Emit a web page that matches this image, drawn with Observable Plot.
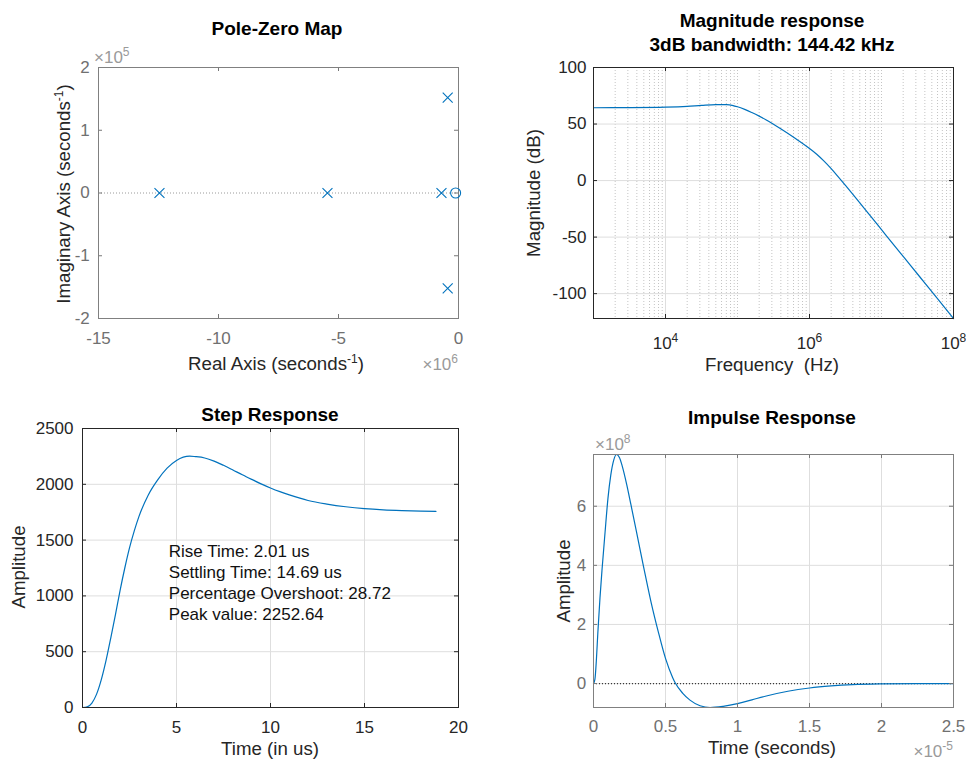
<!DOCTYPE html>
<html>
<head>
<meta charset="utf-8">
<script src="https://cdn.jsdelivr.net/npm/d3@7"></script>
<script src="https://cdn.jsdelivr.net/npm/@observablehq/plot@0.6"></script>
<style>
  body { margin: 0; background: #fff; }
  #fig { position: relative; width: 966px; height: 760px; background: #fff; overflow: hidden;
         font-family: "Liberation Sans", Arial, Helvetica, sans-serif; }
  .panel { position: absolute; }
  .lbl { position: absolute; white-space: pre; line-height: 1; transform: translate(-50%, -50%);
         color: #262626; font-size: 18.7px; }
  .title { font-weight: bold; color: #000; font-size: 19px; }
  .rot { transform: translate(-50%, -50%) rotate(-90deg); }
  .mult { position: absolute; white-space: pre; line-height: 1; color: #9a9a9a; font-size: 17px; }
  sup { font-size: 12px; vertical-align: 7px; line-height: 0; }
</style>
</head>
<body>
<div id="fig">
  <div class="panel" id="p1" style="left:0;top:0"></div>
  <div class="panel" id="p2" style="left:480px;top:0"></div>
  <div class="panel" id="p3" style="left:0;top:380px"></div>
  <div class="panel" id="p4" style="left:480px;top:380px"></div>

  <div class="lbl title" style="left:277px;top:28px">Pole-Zero Map</div>
  <div class="lbl title" style="left:772px;top:20px">Magnitude response</div>
  <div class="lbl title" style="left:772px;top:43.5px">3dB bandwidth: 144.42 kHz</div>
  <div class="lbl title" style="left:270px;top:414px">Step Response</div>
  <div class="lbl title" style="left:772px;top:417px">Impulse Response</div>

  <div class="lbl" style="left:276px;top:364px">Real Axis (seconds<sup>-1</sup>)</div>
  <div class="lbl rot" style="left:64px;top:194px">Imaginary Axis (seconds<sup>-1</sup>)</div>
  <div class="lbl" style="left:772px;top:364.5px">Frequency  (Hz)</div>
  <div class="lbl rot" style="left:534px;top:193px">Magnitude (dB)</div>
  <div class="lbl" style="left:270px;top:748.5px">Time (in us)</div>
  <div class="lbl rot" style="left:19px;top:567px">Amplitude</div>
  <div class="lbl" style="left:772px;top:747.5px">Time (seconds)</div>
  <div class="lbl rot" style="left:564px;top:581px">Amplitude</div>

  <div class="mult" style="left:94px;top:48.6px">×10<sup>5</sup></div>
  <div class="mult" style="right:508px;top:356px">×10<sup>6</sup></div>
  <div class="mult" style="left:595px;top:435.6px">×10<sup>8</sup></div>
  <div class="mult" style="right:13px;top:743px">×10<sup>-5</sup></div>
</div>
<script>
// ---------------- DATA ----------------
// Pole-zero map (seconds^-1)
const poleRe = [-12.46e6, -5.46e6, -0.71e6, -0.45e6, -0.45e6];
const poleIm = [0, 0, 0, 1.52e5, -1.52e5];
const zeroRe = [-0.12e6];
const zeroIm = [0];
const pzXTicks = [-15e6, -10e6, -5e6, 0];
const pzYTicks = [-2e5, -1e5, 0, 1e5, 2e5];

// Magnitude response
const magFreqHz = [1e3, 3.16e3, 1e4, 2e4, 3.16e4, 5e4, 7.08e4, 8.9e4, 1e5, 1.26e5, 1.58e5, 2e5, 2.51e5,
                   3.98e5, 6.31e5, 1e6, 1.26e6, 1.58e6, 2e6, 2.51e6, 3.16e6, 3.98e6, 6.31e6, 1e7,
                   1.58e7, 2.51e7, 3.98e7, 6.31e7, 1e8];
const magDb     = [64.4, 64.5, 64.9, 65.6, 66.5, 67.2, 67.1, 66.1, 65.3, 63.0, 60.2, 57.0, 53.6,
                   45.8, 37.4, 28.4, 23.3, 17.4, 10.6, 3.3, -4.3, -12.0, -27.6, -43.4,
                   -59.1, -74.8, -90.5, -106.2, -122];
const magXTicks = [1e4, 1e6, 1e8];
const magXLabels = ["10^4", "10^6", "10^8"];
const magYTicks = [-100, -50, 0, 50, 100];
const magMajorGrid = [1e4, 1e6];
const magMinorGrid = [2e3, 3e3, 4e3, 5e3, 6e3, 7e3, 8e3, 9e3,
                      2e4, 3e4, 4e4, 5e4, 6e4, 7e4, 8e4, 9e4,
                      1e5, 2e5, 3e5, 4e5, 5e5, 6e5, 7e5, 8e5, 9e5,
                      2e6, 3e6, 4e6, 5e6, 6e6, 7e6, 8e6, 9e6,
                      1e7, 2e7, 3e7, 4e7, 5e7, 6e7, 7e7, 8e7, 9e7];

// Step response (time in us)
const stepT   = [0, 0.25, 0.5, 0.75, 1.0, 1.25, 1.5, 1.75, 2.0, 2.25, 2.5, 2.75, 3.0, 3.5, 4.0, 4.5,
                 5.0, 5.7, 6.0, 6.5, 7.0, 7.5, 8.0, 8.5, 9.0, 9.5, 10, 10.5, 11, 12, 13, 14, 15, 16,
                 17, 18, 18.8];
const stepAmp = [0, 6, 40, 120, 250, 420, 620, 830, 1050, 1250, 1430, 1580, 1710, 1905, 2040, 2145,
                 2214, 2252, 2248, 2236, 2208, 2170, 2128, 2085, 2044, 2004, 1967, 1934, 1905, 1855,
                 1823, 1799, 1782, 1771, 1764, 1759, 1757];
const stepXTicks = [0, 5, 10, 15, 20];
const stepYTicks = [0, 500, 1000, 1500, 2000, 2500];
const stepInfo = ["Rise Time: 2.01 us", "Settling Time: 14.69 us",
                  "Percentage Overshoot: 28.72", "Peak value: 2252.64"];

// Impulse response (seconds, amplitude)
const impT = [0, 0.01e-5, 0.02e-5, 0.03e-5, 0.045e-5, 0.06e-5, 0.08e-5, 0.10e-5, 0.12e-5, 0.14e-5,
              0.16e-5, 0.18e-5, 0.20e-5, 0.23e-5, 0.26e-5, 0.30e-5, 0.35e-5, 0.40e-5, 0.45e-5,
              0.50e-5, 0.55e-5, 0.57e-5, 0.62e-5, 0.67e-5, 0.74e-5, 0.81e-5, 0.90e-5, 1.0e-5,
              1.1e-5, 1.2e-5, 1.35e-5, 1.5e-5, 1.65e-5, 1.8e-5, 2.0e-5, 2.25e-5, 2.5e-5];
const impAmp = [0, 0.15e8, 0.8e8, 1.7e8, 2.9e8, 3.9e8, 5.1e8, 6.25e8, 7.05e8, 7.55e8,
                7.75e8, 7.65e8, 7.35e8, 6.75e8, 6.05e8, 5.1e8, 3.9e8, 2.75e8, 1.75e8,
                0.85e8, 0.2e8, 0, -0.33e8, -0.56e8, -0.75e8, -0.81e8, -0.77e8, -0.68e8,
                -0.55e8, -0.42e8, -0.26e8, -0.15e8, -0.08e8, -0.035e8, -0.01e8, 0, 0];
const impXTicks = [0, 0.5e-5, 1e-5, 1.5e-5, 2e-5, 2.5e-5];
const impYTicks = [0, 2e8, 4e8, 6e8];

// ---------------- STYLE ----------------
const FONT = '"Liberation Sans", Arial, Helvetica, sans-serif';
const BLUE = "#0072BD";
const GRID = "#dedede";
const MINOR = "#c4c4c4";
const st = (color) => ({fontFamily: FONT, fontSize: "17px", color, background: "none", overflow: "visible"});

function inward(xt, yt, fw, fh, stroke, len = 4) {
  return [
    Plot.tickX(xt, {x: d => d, insetTop: fh - len, stroke}),
    Plot.tickX(xt, {x: d => d, insetBottom: fh - len, stroke}),
    Plot.tickY(yt, {y: d => d, insetRight: fw - len, stroke}),
    Plot.tickY(yt, {y: d => d, insetLeft: fw - len, stroke})
  ];
}

// ---------------- Pole-Zero map ----------------
const poles = poleRe.map((re, i) => ({re, im: poleIm[i]}));
const zeros = zeroRe.map((re, i) => ({re, im: zeroIm[i]}));
const pz = Plot.plot({
  width: 480, height: 380,
  marginLeft: 98, marginRight: 22, marginTop: 67, marginBottom: 62,
  x: {domain: [-15e6, 0]},
  y: {domain: [-2e5, 2e5]},
  style: st("#707070"),
  marks: [
    Plot.ruleY([0], {stroke: "#9a9a9a", strokeDasharray: "1,2"}),
    Plot.ruleX([0], {stroke: "#9a9a9a", strokeDasharray: "1,2"}),
    ...inward(pzXTicks, pzYTicks, 360, 251, "#777"),
    Plot.frame({stroke: "#808080"}),
    Plot.axisX(pzXTicks, {anchor: "bottom", tickSize: 0, tickPadding: 13.7, label: null,
                          tickFormat: d => String(d / 1e6)}),
    Plot.axisY(pzYTicks, {anchor: "left", tickSize: 0, tickPadding: 8.7, label: null,
                          tickFormat: d => String(d / 1e5)}),
    Plot.dot(poles, {x: "re", y: "im", symbol: "times", r: 4.6, stroke: BLUE, strokeWidth: 1.1}),
    Plot.dot(zeros, {x: "re", y: "im", symbol: "circle", r: 5, fill: "none", stroke: BLUE, strokeWidth: 1.1})
  ]
});
document.getElementById("p1").appendChild(pz);

// ---------------- Magnitude response ----------------
const mag = magFreqHz.map((f, i) => ({f, db: magDb[i]}));
const magPlot = Plot.plot({
  width: 486, height: 380,
  marginLeft: 113, marginRight: 13, marginTop: 67, marginBottom: 62,
  x: {type: "log", domain: [1e3, 1e8]},
  y: {domain: [-122, 100]},
  style: st("#262626"),
  marks: [
    Plot.ruleX(magMinorGrid, {x: d => d, stroke: MINOR, strokeDasharray: "1,2"}),
    Plot.ruleX(magMajorGrid, {x: d => d, stroke: GRID}),
    Plot.ruleY(magYTicks.filter(d => d < 100), {y: d => d, stroke: GRID}),
    Plot.line(mag, {x: "f", y: "db", stroke: BLUE, strokeWidth: 1.2, curve: "monotone-x"}),
    ...inward(magXTicks, magYTicks, 360, 251, "#262626"),
    Plot.frame({stroke: "#262626"}),
    Plot.axisX(magXTicks, {anchor: "bottom", tickSize: 0, tickPadding: 18, label: null,
                           tickFormat: d => magXLabels[magXTicks.indexOf(d)]}),
    Plot.axisY(magYTicks, {anchor: "left", tickSize: 0, tickPadding: 7, label: null,
                           tickFormat: d => String(d)})
  ]
});
document.getElementById("p2").appendChild(magPlot);
// render "10^k" as 10 with superscript exponent
d3.select(magPlot).selectAll('g[aria-label="x-axis tick label"] text').each(function () {
  const s = this.textContent;
  if (!s.includes("^")) return;
  const [base, exp] = s.split("^");
  this.textContent = "";
  const sel = d3.select(this);
  sel.append("tspan").text(base);
  sel.append("tspan").attr("dy", "-7").attr("font-size", "12px").text(exp);
});

// ---------------- Step response ----------------
const step = stepT.map((t, i) => ({t, a: stepAmp[i]}));
const stepPlot = Plot.plot({
  width: 480, height: 380,
  marginLeft: 82, marginRight: 22, marginTop: 48, marginBottom: 53,
  x: {domain: [0, 20]},
  y: {domain: [0, 2500]},
  style: st("#262626"),
  marks: [
    Plot.ruleX(stepXTicks.slice(1, -1), {x: d => d, stroke: GRID}),
    Plot.ruleY(stepYTicks.slice(1, -1), {y: d => d, stroke: GRID}),
    Plot.line(step, {x: "t", y: "a", stroke: BLUE, strokeWidth: 1.2, curve: "monotone-x"}),
    Plot.text([stepInfo.join("\n")], {x: 4.59, y: 1124, text: d => d, textAnchor: "start",
              lineAnchor: "middle", lineHeight: 1.235, fontSize: 17, fill: "#111"}),
    ...inward(stepXTicks, stepYTicks, 376, 279, "#262626"),
    Plot.frame({stroke: "#262626"}),
    Plot.axisX(stepXTicks, {anchor: "bottom", tickSize: 0, tickPadding: 13.3, label: null,
                            tickFormat: d => String(d)}),
    Plot.axisY(stepYTicks, {anchor: "left", tickSize: 0, tickPadding: 9, label: null,
                            tickFormat: d => String(d)})
  ]
});
document.getElementById("p3").appendChild(stepPlot);

// ---------------- Impulse response ----------------
const imp = impT.map((t, i) => ({t, a: impAmp[i]}));
const impPlot = Plot.plot({
  width: 486, height: 380,
  marginLeft: 113, marginRight: 13, marginTop: 74, marginBottom: 53,
  x: {domain: [0, 2.5e-5]},
  y: {domain: [-0.81e8, 7.75e8]},
  style: st("#707070"),
  marks: [
    Plot.ruleX(impXTicks.slice(1, -1), {x: d => d, stroke: GRID}),
    Plot.ruleY(impYTicks, {y: d => d, stroke: GRID}),
    Plot.ruleY([0], {stroke: "#3a3a3a", strokeDasharray: "1,2", strokeWidth: 1.2}),
    Plot.line(imp, {x: "t", y: "a", stroke: BLUE, strokeWidth: 1.2, curve: "monotone-x"}),
    ...inward(impXTicks, impYTicks, 360, 253, "#777"),
    Plot.frame({stroke: "#808080"}),
    Plot.axisX(impXTicks, {anchor: "bottom", tickSize: 0, tickPadding: 12.8, label: null,
                           tickFormat: d => String(+(d / 1e-5).toFixed(2))}),
    Plot.axisY(impYTicks, {anchor: "left", tickSize: 0, tickPadding: 7.3, label: null,
                           tickFormat: d => String(d / 1e8)})
  ]
});
document.getElementById("p4").appendChild(impPlot);
</script>
</body>
</html>
